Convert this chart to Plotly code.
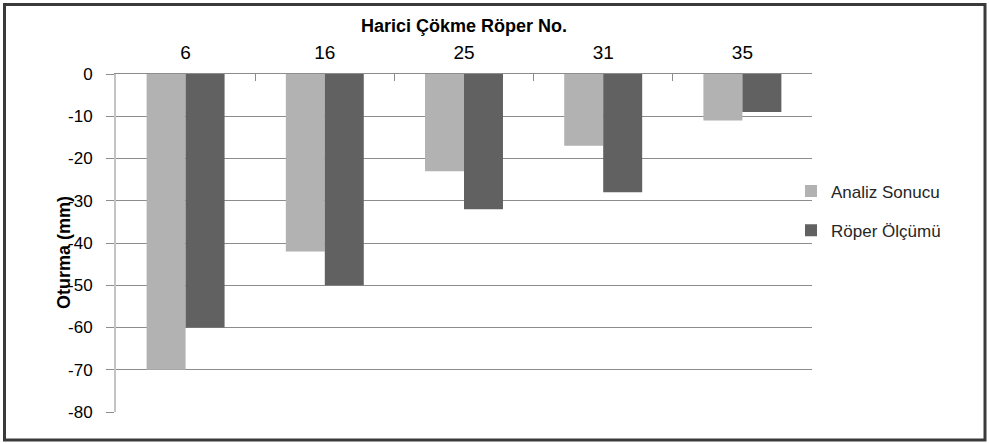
import plotly.graph_objects as go

categories = ["6", "16", "25", "31", "35"]
analiz_sonucu = [-70, -42, -23, -17, -11]
roper_olcumu = [-60, -50, -32, -28, -9]
y_ticks = [0, -10, -20, -30, -40, -50, -60, -70, -80]
y_tick_text = ["0", "-10", "-20", "-30", "-40", "-50", "-60", "-70", "-80"]

W, H = 989, 443
ML, MR, MT, MB = 116, 177, 74, 31
PW, PH = W - ML - MR, H - MT - MB

def px_x(p):
    return (p - ML) / PW

def px_y(p):
    return (H - MB - p) / PH

fig = go.Figure()
fig.add_trace(go.Bar(x=categories, y=analiz_sonucu, name="Analiz Sonucu",
                     marker=dict(color="#B2B2B2", line=dict(width=0)),
                     legendgroup="a"))
fig.add_trace(go.Bar(x=categories, y=roper_olcumu, name="Röper Ölçümü",
                     marker=dict(color="#616161", line=dict(width=0)),
                     legendgroup="b"))

fig.update_layout(
    width=W, height=H,
    margin=dict(l=ML, r=MR, t=MT, b=MB),
    paper_bgcolor="white", plot_bgcolor="white",
    barmode="group", bargap=0.44, bargroupgap=0,
    showlegend=True,
    legend=dict(x=px_x(791), y=px_y(211), xanchor="left", yanchor="middle",
                font=dict(family="Liberation Sans", size=17, color="#262626"),
                traceorder="grouped", tracegroupgap=14, itemwidth=30,
                bgcolor="rgba(0,0,0,0)"),
    xaxis=dict(type="category", side="top", showline=True, linecolor="#8C8C8C",
               linewidth=1, ticks="inside", ticklen=7, tickcolor="#8C8C8C",
               tickson="boundaries", showgrid=False,
               tickfont=dict(family="Liberation Sans", size=19, color="black"),
               ticklabelstandoff=6, anchor="y", zeroline=False),
    yaxis=dict(range=[-80, 0], tickvals=y_ticks, ticktext=y_tick_text,
               showgrid=True, gridcolor="#8C8C8C", gridwidth=1,
               ticks="outside", ticklen=8, tickcolor="#8C8C8C",
               showline=True, linecolor="#C4C4C4", linewidth=2,
               zeroline=False,
               tickfont=dict(family="Liberation Sans", size=17, color="black"),
               ticklabelstandoff=10),
    annotations=[
        dict(text="<b>Harici Çökme Röper No.</b>", xref="paper", yref="paper",
             x=0.5, y=px_y(26), xanchor="center", yanchor="middle",
             showarrow=False,
             font=dict(family="Liberation Sans", size=18, color="black")),
        dict(text="<b>Oturma (mm)</b>", xref="paper", yref="paper",
             x=px_x(64), y=px_y(252), xanchor="center", yanchor="middle",
             showarrow=False, textangle=-90,
             font=dict(family="Liberation Sans", size=18, color="black")),
    ],
    shapes=[
        dict(type="rect", xref="paper", yref="paper",
             x0=px_x(4.5), x1=px_x(985), y0=px_y(440), y1=px_y(4.5),
             line=dict(color="#3A3A3A", width=3), fillcolor="rgba(0,0,0,0)",
             layer="above"),
    ],
)

fig.write_html("out.html", config={"displayModeBar": False},
               post_script="document.body.style.margin='0';")
